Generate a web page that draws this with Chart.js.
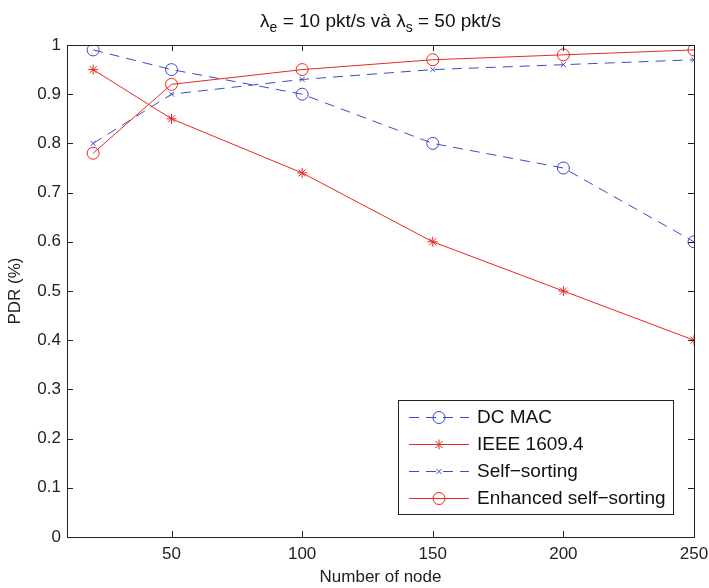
<!DOCTYPE html>
<html><head><meta charset="utf-8">
<script src="https://cdn.jsdelivr.net/npm/chart.js@4"></script>
<style>html,body{margin:0;padding:0;background:#fff}</style>
</head><body>
<canvas id="c" width="709" height="588" style="width:709px;height:588px"></canvas>
<script>
const nodes = [20, 50, 100, 150, 200, 250];
const dcMac = [0.99, 0.95, 0.90, 0.80, 0.75, 0.60];
const ieee16094 = [0.95, 0.85, 0.74, 0.60, 0.50, 0.40];
const selfSorting = [0.80, 0.90, 0.93, 0.95, 0.96, 0.97];
const enhancedSelfSorting = [0.78, 0.92, 0.95, 0.97, 0.98, 0.99];
const xTicks = [50, 100, 150, 200, 250];
const yTicks = [0, 0.1, 0.2, 0.3, 0.4, 0.5, 0.6, 0.7, 0.8, 0.9, 1];
const seriesNames = ['DC MAC', 'IEEE 1609.4', 'Self\u2212sorting', 'Enhanced self\u2212sorting'];

const BLUE = 'rgb(60,75,200)';
const RED = 'rgb(232,40,35)';
const FONT = '"Liberation Sans", Arial, sans-serif';

function pts(ys){ return nodes.map((x,i)=>({x:x,y:ys[i]})); }

const datasets = [
  {label:seriesNames[0], data:pts(dcMac), borderColor:BLUE, backgroundColor:'rgba(0,0,0,0)', borderWidth:1, borderDash:[10,7], pointStyle:'circle', pointRadius:6, pointBorderWidth:1, pointBorderColor:BLUE},
  {label:seriesNames[1], data:pts(ieee16094), borderColor:RED, backgroundColor:'rgba(0,0,0,0)', borderWidth:1, pointStyle:'star', pointRadius:5, pointBorderWidth:1, pointBorderColor:RED},
  {label:seriesNames[2], data:pts(selfSorting), borderColor:BLUE, backgroundColor:'rgba(0,0,0,0)', borderWidth:1, borderDash:[10,7], pointStyle:'crossRot', pointRadius:3.5, pointBorderWidth:1, pointBorderColor:BLUE},
  {label:seriesNames[3], data:pts(enhancedSelfSorting), borderColor:RED, backgroundColor:'rgba(0,0,0,0)', borderWidth:1, pointStyle:'circle', pointRadius:6, pointBorderWidth:1, pointBorderColor:RED}
];

const frame = {
  id:'frame',
  afterDatasetsDraw(chart){
    const ctx = chart.ctx, a = chart.chartArea;
    const xs = chart.scales.x, ys = chart.scales.y;
    ctx.save();
    ctx.strokeStyle = '#222'; ctx.lineWidth = 1;
    ctx.strokeRect(a.left+0.5, a.top+0.5, a.right-a.left, a.bottom-a.top);
    const L = 6;
    ctx.beginPath();
    xTicks.forEach(v=>{
      const p = Math.round(xs.getPixelForValue(v))+0.5;
      ctx.moveTo(p, a.bottom); ctx.lineTo(p, a.bottom-L);
      ctx.moveTo(p, a.top); ctx.lineTo(p, a.top+L);
    });
    yTicks.forEach(v=>{
      const p = Math.round(ys.getPixelForValue(v))+0.5;
      ctx.moveTo(a.left, p); ctx.lineTo(a.left+L, p);
      ctx.moveTo(a.right, p); ctx.lineTo(a.right-L, p);
    });
    ctx.stroke();

    // title with subscripts
    ctx.fillStyle = '#111';
    ctx.textBaseline = 'alphabetic';
    const big = '19px '+FONT, small = '14px '+FONT;
    const parts = [['\u03BB',big,0],['e',small,5],[' = 10 pkt/s và ',big,0],['\u03BB',big,0],['s',small,5],[' = 50 pkt/s',big,0]];
    let w = 0;
    parts.forEach(p=>{ctx.font=p[1]; w+=ctx.measureText(p[0]).width;});
    let x = (a.left+a.right)/2 - w/2;
    const base = 27;
    parts.forEach(p=>{ctx.font=p[1]; ctx.fillText(p[0], x, base+p[2]); x+=ctx.measureText(p[0]).width;});

    // legend
    const lx = 398, ly = 400, lw = 275, lh = 114;
    ctx.fillStyle = '#fff';
    ctx.fillRect(lx, ly, lw, lh);
    ctx.strokeStyle = '#222';
    ctx.strokeRect(lx+0.5, ly+0.5, lw, lh);
    chart.data.datasets.forEach((ds,i)=>{
      const yy = ly + 17 + i*27;
      ctx.save();
      ctx.strokeStyle = ds.borderColor; ctx.lineWidth = 1;
      ctx.setLineDash(ds.borderDash || []);
      ctx.beginPath(); ctx.moveTo(409, yy+0.5); ctx.lineTo(469, yy+0.5); ctx.stroke();
      ctx.setLineDash([]);
      ctx.restore();
      ctx.save();
      ctx.strokeStyle = ds.pointBorderColor; ctx.lineWidth = 1;
      ctx.fillStyle = 'rgba(0,0,0,0)';
      Chart.helpers.drawPoint(ctx, {pointStyle:ds.pointStyle, radius:ds.pointRadius, borderWidth:1, rotation:0}, 439, yy+0.5);
      ctx.restore();
      ctx.fillStyle = '#111';
      ctx.font = '19px '+FONT;
      ctx.textBaseline = 'middle';
      ctx.fillText(ds.label, 477, yy+1);
    });
    ctx.restore();
  }
};

new Chart(document.getElementById('c'), {
  type:'line',
  data:{datasets:datasets},
  plugins:[frame],
  options:{
    responsive:false,
    animation:false,
    layout:{padding:{top:45, right:15, left:0, bottom:0}},
    plugins:{legend:{display:false}, title:{display:false}, tooltip:{enabled:false}},
    scales:{
      x:{
        type:'linear', min:10, max:250,
        afterBuildTicks(s){ s.ticks = xTicks.map(v=>({value:v})); },
        afterFit(s){ s.height = 51; s.paddingLeft = 0; s.paddingRight = 0; },
        grid:{display:false, drawTicks:false},
        border:{display:false},
        ticks:{padding:7, color:'#222', font:{family:FONT, size:17}, maxRotation:0, autoSkip:false},
        title:{display:true, text:'Number of node', color:'#222', font:{family:FONT, size:17}, padding:{top:0,bottom:0}}
      },
      y:{
        type:'linear', min:0, max:1,
        afterBuildTicks(s){ s.ticks = yTicks.map(v=>({value:v})); },
        afterFit(s){ s.width = 67; s.paddingTop = 0; s.paddingBottom = 0; },
        grid:{display:false, drawTicks:false},
        border:{display:false},
        ticks:{padding:6, color:'#222', font:{family:FONT, size:17}, callback:v=>String(Math.round(v*10)/10)},
        title:{display:true, text:'PDR (%)', color:'#222', font:{family:FONT, size:17}, padding:{top:5,bottom:0}}
      }
    }
  }
});
</script>
</body></html>
